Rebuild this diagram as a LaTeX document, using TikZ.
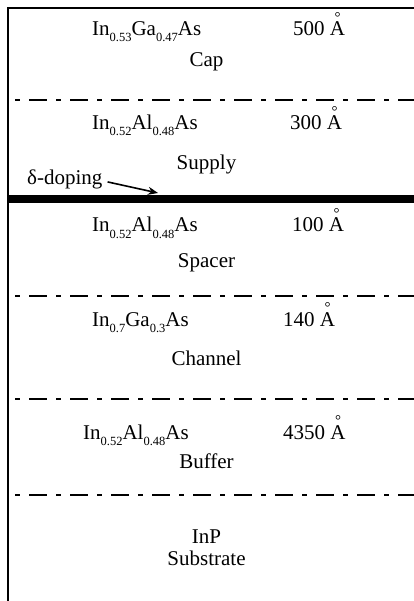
\documentclass[tikz,border=0pt]{standalone}
\usepackage{fontspec}
\setmainfont{Liberation Serif}
\usetikzlibrary{arrows.meta}
\newcommand\sbx[1]{\raisebox{-6pt}{\fontsize{12.5}{12.5}\selectfont #1}}
\newcommand\Ang{{\setbox0\hbox{A}\rlap{\hbox to\wd0{\hss\raisebox{13.5pt}{\fontsize{15}{15}\selectfont °}\hss}}A}}
\tikzset{
  txt/.style={inner sep=0pt, anchor=base west, font=\fontsize{21}{24}\selectfont},
  ctxt/.style={inner sep=0pt, anchor=base, font=\fontsize{21}{24}\selectfont},
  sep/.style={line width=2pt, dash pattern=on 5pt off 9pt on 18pt off 9pt, dash phase=34pt},
  frame/.style={line width=2.4pt}
}
\begin{document}
\begin{tikzpicture}[x=1pt,y=-1pt]
\useasboundingbox (0,0) rectangle (414,601);
% frame
\coordinate (tl) at (8,8);
\coordinate (tr) at (414,8);
\coordinate (bl) at (8,601);
\draw[frame] (tr) -- (tl) -- (bl);
% separators
\coordinate (s1l) at (8,100); \coordinate (s1r) at (414,100);
\coordinate (s3l) at (8,296); \coordinate (s3r) at (414,296);
\coordinate (s4l) at (8,399); \coordinate (s4r) at (414,399);
\coordinate (s5l) at (8,495); \coordinate (s5r) at (414,495);
\draw[sep] (s1l) -- (s1r);
\draw[sep] (s3l) -- (s3r);
\draw[sep] (s4l) -- (s4r);
\draw[sep] (s5l) -- (s5r);
% delta doping bar
\coordinate (dl) at (8,199.5); \coordinate (dr) at (414,199.5);
\draw[line width=8pt] (dl) -- (dr);
% Cap
\node[txt] (f1) at (92,36) {In\sbx{0.53}Ga\sbx{0.47}As};
\node[txt] (t1) at (293,36) {500 \Ang};
\node[ctxt] (n1) at (206.5,67) {Cap};
% Supply
\node[txt] (f2) at (92,130) {In\sbx{0.52}Al\sbx{0.48}As};
\node[txt] (t2) at (290,130) {300 \Ang};
\node[ctxt] (n2) at (206.5,170) {Supply};
% delta-doping label
\node[txt] (dop) at (27,185) {δ-doping};
\coordinate (dtip) at (158,193);
\draw[line width=1.6pt, -{Stealth[length=10pt,width=8pt]}] ([xshift=5pt,yshift=-2pt]dop.east) -- (dtip);
% Spacer
\node[txt] (f3) at (92,232) {In\sbx{0.52}Al\sbx{0.48}As};
\node[txt] (t3) at (292,232) {100 \Ang};
\node[ctxt] (n3) at (206.5,267) {Spacer};
% Channel
\node[txt] (f4) at (92,326) {In\sbx{0.7}Ga\sbx{0.3}As};
\node[txt] (t4) at (283,326) {140 \Ang};
\node[ctxt] (n4) at (206.5,365) {Channel};
% Buffer
\node[txt] (f5) at (83,439) {In\sbx{0.52}Al\sbx{0.48}As};
\node[txt] (t5) at (283,439) {4350 \Ang};
\node[ctxt] (n5) at (206.5,468) {Buffer};
% Substrate
\node[ctxt] (n6a) at (206.5,543) {InP};
\node[ctxt] (n6b) at (206.5,565) {Substrate};
\end{tikzpicture}
\end{document}
